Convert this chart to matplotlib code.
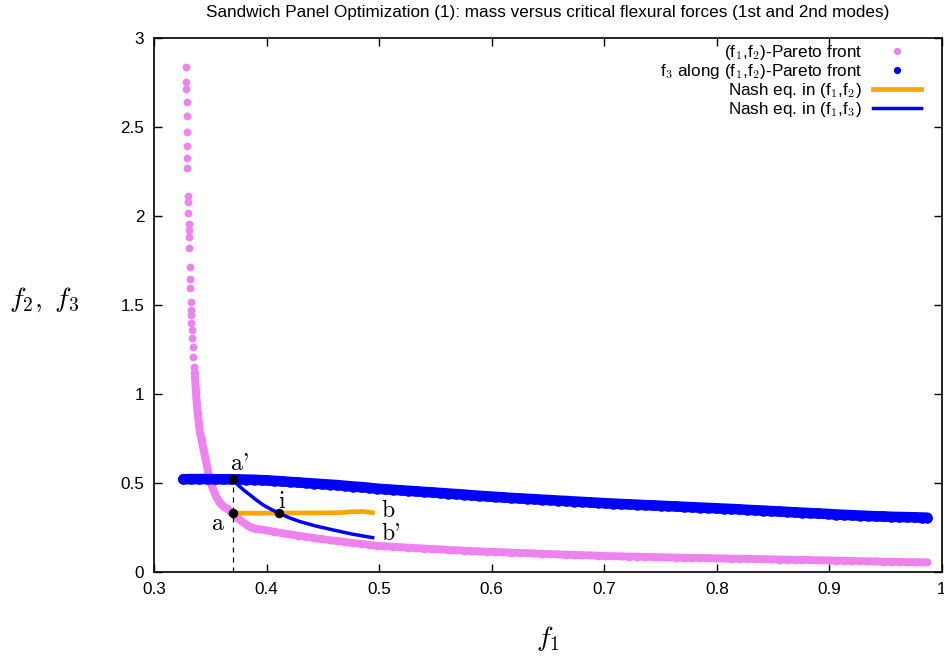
import matplotlib
matplotlib.use("Agg")
import matplotlib.pyplot as plt

plt.rcParams['font.family'] = ['Liberation Sans', 'DejaVu Sans']
plt.rcParams['mathtext.fontset'] = 'cm'

# (f1,f2)-Pareto front: sparse steep part, then the dense knee and tail
pareto_f1 = [0.3284, 0.3284, 0.3287, 0.3290, 0.3290, 0.3293, 0.3293, 0.3296, 0.3296, 0.3302,
             0.3302, 0.3305, 0.3308, 0.3311, 0.3311, 0.3314, 0.3317, 0.3320, 0.3323, 0.3326,
             0.3329, 0.3329, 0.3332, 0.3335, 0.3338, 0.3344, 0.3350, 0.3356, 0.3361,
             0.3367, 0.3370, 0.3373, 0.3376, 0.3379, 0.3383, 0.3388, 0.3392, 0.3397, 0.3403,
             0.3409, 0.3416, 0.3423, 0.3430, 0.3438, 0.3445, 0.3453, 0.3462, 0.3472, 0.3484,
             0.3497, 0.3510, 0.3525, 0.3540, 0.3557, 0.3580, 0.3605, 0.3625, 0.3646, 0.3672,
             0.3699, 0.3730, 0.3764, 0.3800, 0.3830, 0.3853, 0.3880, 0.3910, 0.3941,
             0.400, 0.407, 0.414, 0.421, 0.428, 0.435, 0.442, 0.449, 0.456, 0.463,
             0.470, 0.477, 0.484, 0.491, 0.498, 0.505, 0.512, 0.519, 0.526, 0.533,
             0.540, 0.547, 0.554, 0.561, 0.568, 0.575, 0.582, 0.589, 0.596, 0.603,
             0.610, 0.617, 0.624, 0.631, 0.638, 0.645, 0.652, 0.659, 0.666, 0.673,
             0.680, 0.687, 0.694, 0.701, 0.708, 0.715, 0.722, 0.729, 0.736, 0.743,
             0.750, 0.757, 0.764, 0.771, 0.778, 0.785, 0.792, 0.799, 0.806, 0.813,
             0.820, 0.827, 0.834, 0.841, 0.848, 0.855, 0.862, 0.869, 0.876, 0.883,
             0.890, 0.899, 0.906, 0.913, 0.920, 0.927, 0.934, 0.941, 0.948, 0.955,
             0.962, 0.969, 0.976, 0.982, 0.987]
pareto_f2 = [2.839, 2.754, 2.713, 2.639, 2.563, 2.474, 2.393, 2.328, 2.268, 2.114,
             2.080, 2.019, 1.955, 1.921, 1.884, 1.822, 1.715, 1.646, 1.594, 1.518,
             1.472, 1.444, 1.397, 1.360, 1.313, 1.266, 1.210, 1.153, 1.120,
             1.060, 1.030, 1.004, 0.975, 0.948, 0.920, 0.892, 0.863, 0.835, 0.807,
             0.779, 0.760, 0.742, 0.718, 0.695, 0.672, 0.648, 0.620, 0.590, 0.555,
             0.517, 0.490, 0.465, 0.440, 0.417, 0.395, 0.375, 0.365, 0.358, 0.344,
             0.330, 0.310, 0.292, 0.275, 0.262, 0.254, 0.248, 0.243, 0.240,
             0.234, 0.226, 0.218, 0.211, 0.204, 0.198, 0.191, 0.185, 0.179, 0.174,
             0.168, 0.163, 0.158, 0.153, 0.148, 0.145, 0.142, 0.139, 0.137, 0.134,
             0.132, 0.129, 0.127, 0.124, 0.122, 0.120, 0.118, 0.116, 0.114, 0.113,
             0.111, 0.109, 0.107, 0.106, 0.104, 0.102, 0.101, 0.099, 0.098, 0.096,
             0.095, 0.093, 0.092, 0.090, 0.089, 0.088, 0.087, 0.086, 0.085, 0.084,
             0.083, 0.082, 0.081, 0.080, 0.080, 0.079, 0.078, 0.077, 0.076, 0.075,
             0.075, 0.074, 0.073, 0.072, 0.071, 0.070, 0.070, 0.069, 0.068, 0.067,
             0.066, 0.065, 0.064, 0.063, 0.062, 0.061, 0.060, 0.059, 0.058, 0.058,
             0.057, 0.056, 0.055, 0.055, 0.054]
dense_from = 28  # below f2 ~ 1.1 the dots overlap into a continuous band

# f3 evaluated along the (f1,f2)-Pareto front
front_f1 = [0.326, 0.333, 0.340, 0.347, 0.354, 0.361, 0.368, 0.375, 0.382, 0.389, 0.396,
            0.400, 0.407, 0.414, 0.421, 0.428, 0.435, 0.442, 0.449, 0.456, 0.463,
            0.470, 0.477, 0.484, 0.491, 0.498, 0.505, 0.512, 0.519, 0.526, 0.533,
            0.540, 0.547, 0.554, 0.561, 0.568, 0.575, 0.582, 0.589, 0.596, 0.603,
            0.610, 0.617, 0.624, 0.631, 0.638, 0.645, 0.652, 0.659, 0.666, 0.673,
            0.680, 0.687, 0.694, 0.701, 0.708, 0.715, 0.722, 0.729, 0.736, 0.743,
            0.750, 0.757, 0.764, 0.771, 0.778, 0.785, 0.792, 0.799, 0.806, 0.813,
            0.820, 0.827, 0.834, 0.841, 0.848, 0.855, 0.862, 0.869, 0.876, 0.883,
            0.890, 0.899, 0.906, 0.913, 0.920, 0.927, 0.934, 0.941, 0.948, 0.955,
            0.962, 0.969, 0.976, 0.982, 0.987]
front_f3 = [0.521, 0.522, 0.522, 0.522, 0.521, 0.521, 0.521, 0.520, 0.519, 0.518, 0.516,
            0.515, 0.512, 0.509, 0.506, 0.503, 0.500, 0.497, 0.494, 0.491, 0.488,
            0.484, 0.480, 0.477, 0.473, 0.468, 0.465, 0.462, 0.459, 0.456, 0.453,
            0.450, 0.447, 0.444, 0.441, 0.438, 0.435, 0.431, 0.428, 0.425, 0.422,
            0.419, 0.416, 0.414, 0.411, 0.409, 0.406, 0.404, 0.401, 0.399, 0.396,
            0.394, 0.391, 0.389, 0.386, 0.384, 0.382, 0.380, 0.378, 0.376, 0.374,
            0.372, 0.370, 0.368, 0.366, 0.364, 0.362, 0.360, 0.358, 0.356, 0.354,
            0.352, 0.349, 0.347, 0.345, 0.342, 0.340, 0.338, 0.335, 0.333, 0.331,
            0.329, 0.326, 0.323, 0.321, 0.319, 0.317, 0.315, 0.313, 0.312, 0.310,
            0.309, 0.308, 0.307, 0.306, 0.305]

# Nash equilibria
nash12_f1 = [0.370, 0.420, 0.465, 0.474, 0.486, 0.494]
nash12_f2 = [0.330, 0.331, 0.333, 0.338, 0.340, 0.333]
nash13_f1 = [0.370, 0.3730, 0.3764, 0.3805, 0.3853, 0.3910, 0.3971, 0.4040, 0.4113,
             0.4200, 0.4297, 0.4440, 0.4593, 0.4760, 0.4942]
nash13_f3 = [0.520, 0.498, 0.479, 0.456, 0.433, 0.404, 0.376, 0.352, 0.330,
             0.305, 0.283, 0.258, 0.236, 0.213, 0.193]

# marked points a, a', i
pts_f1 = [0.370, 0.370, 0.411]
pts_f = [0.330, 0.520, 0.330]
x_a = 0.370

point_labels = ["a", "a'", "i", "b", "b'"]
label_x = [0.3512, 0.3684, 0.4105, 0.5022, 0.5022]
label_y = [0.236, 0.573, 0.360, 0.309, 0.180]

xticks = [0.3, 0.4, 0.5, 0.6, 0.7, 0.8, 0.9, 1.0]
xticklabels = ["0.3", "0.4", "0.5", "0.6", "0.7", "0.8", "0.9", "1"]
yticks = [0, 0.5, 1, 1.5, 2, 2.5, 3]
yticklabels = ["0", "0.5", "1", "1.5", "2", "2.5", "3"]

pink = '#ee82ee'
blue = '#0000ff'

fig = plt.figure(figsize=(9.44, 6.6), dpi=100)
ax = fig.add_axes([154/944, 88/660, 788/944, 534/660])

ax.plot(pareto_f1, pareto_f2, 'o', color=pink, ms=5.6, mec='none',
        label=r'(f$_\mathsf{1}$,f$_\mathsf{2}$)-Pareto front')
ax.plot(pareto_f1[dense_from:], pareto_f2[dense_from:], '-', color=pink, lw=5.6,
        solid_capstyle='round', solid_joinstyle='round')
ax.plot(front_f1, front_f3, 'o', color=blue, ms=7.6, mec='none',
        label=r'f$_\mathsf{3}$ along (f$_\mathsf{1}$,f$_\mathsf{2}$)-Pareto front')
ax.plot(front_f1, front_f3, '-', color=blue, lw=7.6,
        solid_capstyle='round', solid_joinstyle='round')
ax.plot(nash12_f1, nash12_f2, '-', color='#ffa500', lw=3.4,
        label=r'Nash eq. in (f$_\mathsf{1}$,f$_\mathsf{2}$)')
ax.plot(nash13_f1, nash13_f3, '-', color=blue, lw=2.5,
        label=r'Nash eq. in (f$_\mathsf{1}$,f$_\mathsf{3}$)')
ax.plot([x_a, x_a], [0, pts_f[1]], '--', color='black', lw=0.9, dashes=(4, 4))
ax.plot(pts_f1, pts_f, 'o', color='black', ms=5.8)

for t, x, y in zip(point_labels, label_x, label_y):
    ax.text(x, y, t, fontfamily='cmr10', fontsize=17, ha='left', va='baseline')

ax.set_xlim(0.3, 1.0)
ax.set_ylim(0, 3)
ax.set_xticks(xticks)
ax.set_xticklabels(xticklabels)
ax.set_yticks(yticks)
ax.set_yticklabels(yticklabels)
ax.tick_params(direction='in', length=6, width=1, labelsize=12.3, pad=7,
               top=True, right=True)
for s in ax.spines.values():
    s.set_linewidth(1.2)

ax.set_xlabel(r'$f_1$', fontsize=20)
ax.xaxis.set_label_coords(0.5, -0.098)
ax.set_ylabel(r'$f_2,\ f_3$', fontsize=20, rotation=0, ha='center', va='center')
ax.yaxis.set_label_coords(-0.140, 0.509)

leg = ax.legend(loc='upper right', bbox_to_anchor=(767/788, 0.991), markerfirst=False,
                frameon=False, fontsize=12.3, borderpad=0, borderaxespad=0,
                handlelength=2.8, handletextpad=0.65, labelspacing=0.0)
for h in leg.legend_handles[:2]:
    h.set_markersize(5.2)

fig.text(548/944, 1 - 12/660, 'Sandwich Panel Optimization (1): mass versus critical flexural forces (1st and 2nd modes)',
         ha='center', va='center', fontsize=12.3)

fig.savefig('out.png', dpi=100)
